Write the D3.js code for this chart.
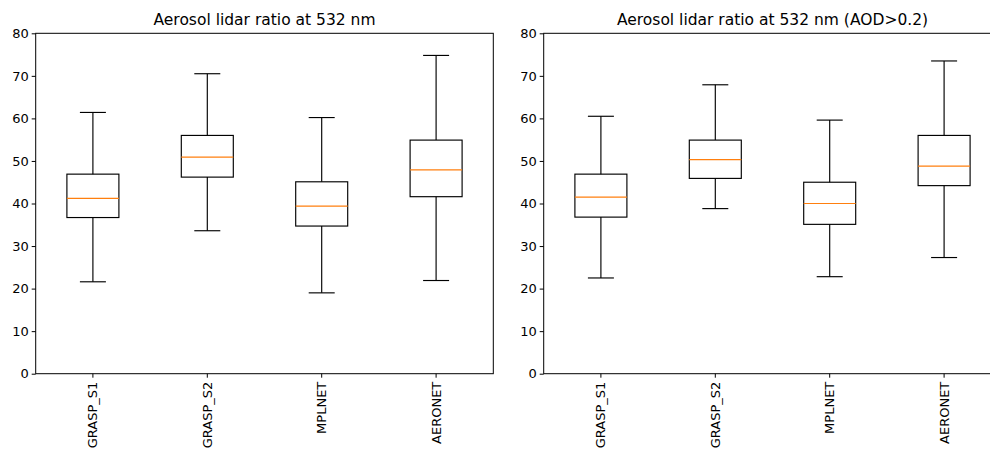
<!DOCTYPE html>
<html>
<head>
<meta charset="utf-8">
<script src="https://cdn.jsdelivr.net/npm/d3@7"></script>
<style>
  html, body { margin: 0; padding: 0; background: #fff; }
  svg { display: block; }
  text { font-family: "DejaVu Sans", sans-serif; fill: #000; }
</style>
</head>
<body>
<svg id="chart" width="990" height="450"></svg>
<script>
const categories = ["GRASP_S1", "GRASP_S2", "MPLNET", "AERONET"];
const titles = ["Aerosol lidar ratio at 532 nm", "Aerosol lidar ratio at 532 nm (AOD>0.2)"];
const yTicks = [0, 10, 20, 30, 40, 50, 60, 70, 80];

// [lower whisker, Q1, median, Q3, upper whisker]
const allLow    = [21.6, 33.6, 19.0, 21.9];
const allQ1     = [36.7, 46.2, 34.7, 41.6];
const allMedian = [41.2, 50.9, 39.4, 47.9];
const allQ3     = [46.9, 56.0, 45.1, 54.9];
const allHigh   = [61.4, 70.5, 60.2, 74.8];

const aodLow    = [22.5, 38.8, 22.8, 27.3];
const aodQ1     = [36.8, 45.9, 35.1, 44.2];
const aodMedian = [41.5, 50.3, 40.0, 48.8];
const aodQ3     = [46.9, 54.9, 45.0, 56.0];
const aodHigh   = [60.5, 67.9, 59.6, 73.5];

function buildStats(low, q1, med, q3, high) {
  return categories.map((c, i) => ({ cat: c, low: low[i], q1: q1[i], med: med[i], q3: q3[i], high: high[i] }));
}
const panels = [
  { title: titles[0], stats: buildStats(allLow, allQ1, allMedian, allQ3, allHigh), left: 35.7 },
  { title: titles[1], stats: buildStats(aodLow, aodQ1, aodMedian, aodQ3, aodHigh), left: 543.7 }
];

const svg = d3.select("#chart");
const W = 457.6, plotTop = 33.3, plotBottom = 373.7;
const boxW = 52, capW = 26;
const lw = 1.15;

panels.forEach(p => {
  const g = svg.append("g");
  const x = d3.scaleBand().domain(categories).range([p.left, p.left + W]).paddingInner(0).paddingOuter(0);
  const y = d3.scaleLinear().domain([0, 80]).range([plotBottom, plotTop]);
  const cx = d => x(d.cat) + x.bandwidth() / 2;

  // y axis
  const yAxis = d3.axisLeft(y).tickValues(yTicks).tickSize(4).tickPadding(3);
  const ya = g.append("g").attr("transform", `translate(${p.left},0)`).call(yAxis);
  ya.select(".domain").remove();
  ya.selectAll("line").attr("stroke", "#000").attr("stroke-width", 1);
  ya.selectAll("text").style("font-size", "13px").style("font-family", "DejaVu Sans");

  // x axis
  const xAxis = d3.axisBottom(x).tickSize(4).tickPadding(3);
  const xa = g.append("g").attr("transform", `translate(0,${plotBottom})`).call(xAxis);
  xa.select(".domain").remove();
  xa.selectAll("line").attr("stroke", "#000").attr("stroke-width", 1);
  xa.selectAll("text")
    .style("font-size", "13px").style("font-family", "DejaVu Sans")
    .attr("transform", "rotate(-90)")
    .attr("text-anchor", "end")
    .attr("x", -8).attr("y", 0).attr("dy", "0.35em");

  // frame
  g.append("rect").attr("x", p.left).attr("y", plotTop).attr("width", W).attr("height", plotBottom - plotTop)
    .attr("fill", "none").attr("stroke", "#000").attr("stroke-width", 1);

  // boxes
  const b = g.selectAll(".box").data(p.stats).enter().append("g");
  b.append("line").attr("x1", cx).attr("x2", cx).attr("y1", d => y(d.high)).attr("y2", d => y(d.q3))
    .attr("stroke", "#000").attr("stroke-width", lw);
  b.append("line").attr("x1", cx).attr("x2", cx).attr("y1", d => y(d.q1)).attr("y2", d => y(d.low))
    .attr("stroke", "#000").attr("stroke-width", lw);
  b.append("line").attr("x1", d => cx(d) - capW / 2).attr("x2", d => cx(d) + capW / 2)
    .attr("y1", d => y(d.high)).attr("y2", d => y(d.high)).attr("stroke", "#000").attr("stroke-width", lw);
  b.append("line").attr("x1", d => cx(d) - capW / 2).attr("x2", d => cx(d) + capW / 2)
    .attr("y1", d => y(d.low)).attr("y2", d => y(d.low)).attr("stroke", "#000").attr("stroke-width", lw);
  b.append("rect").attr("x", d => cx(d) - boxW / 2).attr("width", boxW)
    .attr("y", d => y(d.q3)).attr("height", d => y(d.q1) - y(d.q3))
    .attr("fill", "none").attr("stroke", "#000").attr("stroke-width", lw);
  b.append("line").attr("x1", d => cx(d) - boxW / 2).attr("x2", d => cx(d) + boxW / 2)
    .attr("y1", d => y(d.med)).attr("y2", d => y(d.med)).attr("stroke", "#ff7f0e").attr("stroke-width", lw);

  // title
  g.append("text").attr("x", p.left + W / 2).attr("y", plotTop - 8).attr("text-anchor", "middle")
    .style("font-size", "15.5px").text(p.title);
});
</script>
</body>
</html>
